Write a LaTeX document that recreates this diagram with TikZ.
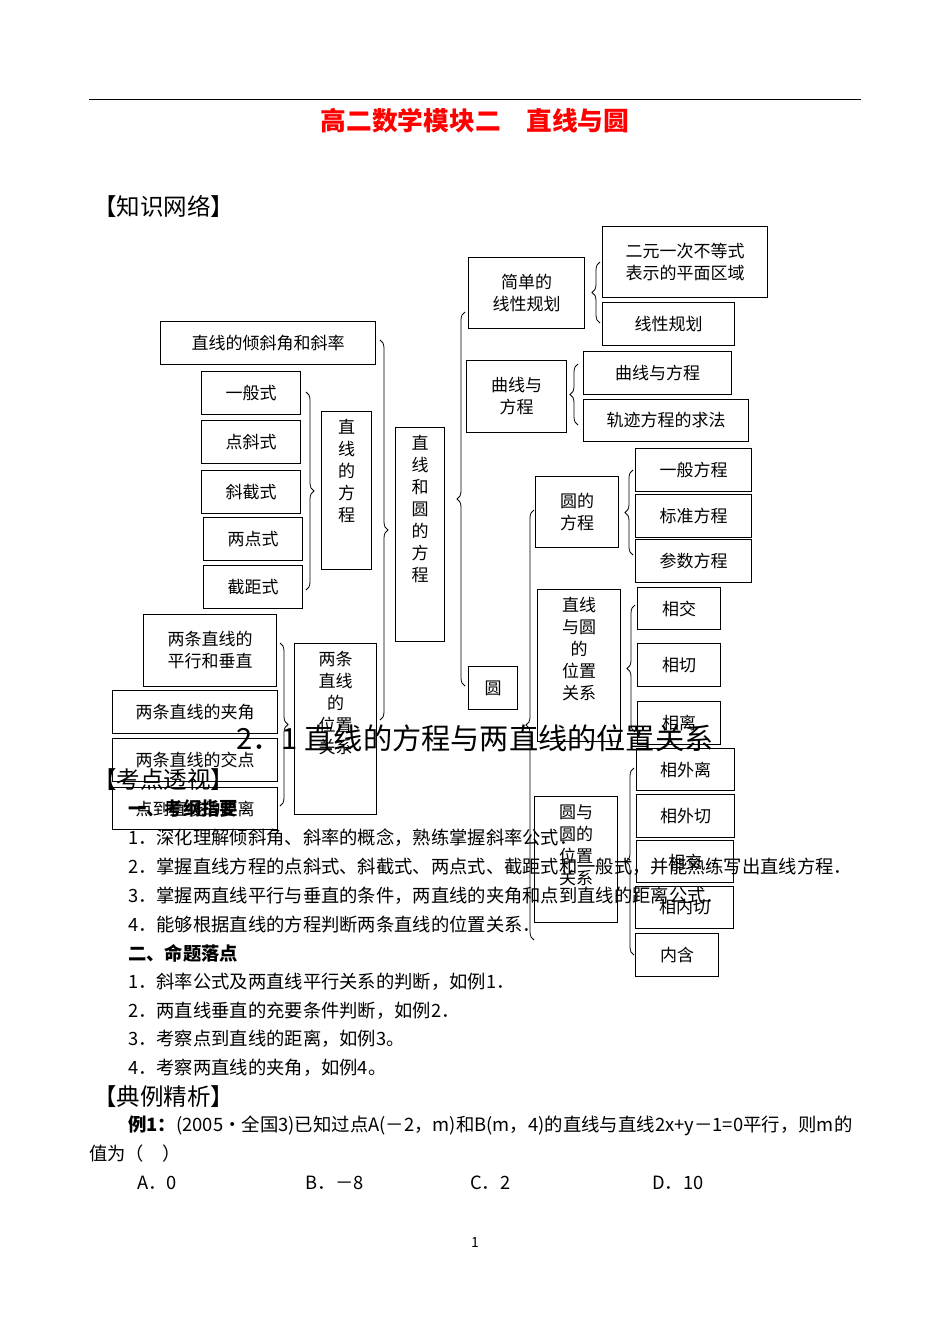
\documentclass[tikz,border=0pt]{standalone}
\usepackage{fontspec}
\setmainfont{Noto Sans CJK SC}
\usetikzlibrary{decorations.pathreplacing}
\tikzset{box/.style={draw,line width=1pt,inner sep=0pt,align=center,font=\fontsize{17}{22}\selectfont},
 brc/.style={decorate,decoration={brace,amplitude=8pt},line width=0.8pt},
 body/.style={anchor=west,font=\fontsize{18.3}{20}\selectfont,inner sep=0pt}}
\newcommand\bx[6]{\node[box,anchor=north west,minimum width={(#4-#2)*1pt},minimum height={(#5-#3)*1pt}] (#1) at (#2,#3) {#6};}
\newcommand\bxt[6]{\node[box,anchor=north west,minimum width={(#4-#2)*1pt},minimum height={(#5-#3)*1pt}] (#1) at (#2,#3) {};
 \node[font=\fontsize{17}{22}\selectfont,align=center,anchor=north,inner sep=0pt] (#1t) at ([yshift=-8pt]#1.north) {#6};}
\begin{document}
\begin{tikzpicture}[x=1pt,y=-1pt]
\path[use as bounding box,fill=white] (0,0) rectangle (950,1342);
\draw[line width=1pt] (89,99) coordinate (r1) -- (861,99) coordinate (r2);
\node[text=red,font=\fontsize{25.7}{28}\selectfont\bfseries] (title) at (475,121) {高二数学模块二\quad 直线与圆};
\node[body,font=\fontsize{23.5}{26}\selectfont] (zs) at (93,206) {【知识网络】};
% boxes
\bx{jd}{468}{257}{584}{328}{简单的\\线性规划}
\bx{ey}{602}{226}{767}{297}{二元一次不等式\\表示的平面区域}
\bx{xg}{602}{302}{734}{345}{线性规划}
\bx{qx}{466}{360}{566}{432}{曲线与\\方程}
\bx{qf}{583}{351}{731}{394}{曲线与方程}
\bx{gj}{583}{399}{748}{441}{轨迹方程的求法}
\bx{qj}{160}{321}{375}{364}{直线的倾斜角和斜率}
\bx{yb}{201}{371}{300}{414}{一般式}
\bx{dx}{201}{420}{300}{463}{点斜式}
\bx{xj}{201}{470}{300}{513}{斜截式}
\bx{ld}{203}{517}{302}{560}{两点式}
\bx{jj}{203}{565}{302}{608}{截距式}
\bxt{zf}{321}{411}{371}{569}{直\\线\\的\\方\\程}
\bxt{zy}{395}{427}{444}{641}{直\\线\\和\\圆\\的\\方\\程}
\bx{yf}{535}{476}{618}{547}{圆的\\方程}
\bx{ybf}{635}{448}{751}{491}{一般方程}
\bx{bz}{635}{494}{751}{537}{标准方程}
\bx{cs}{635}{539}{751}{582}{参数方程}
\bxt{zyw}{537}{589}{620}{741}{直线\\与圆\\的\\位置\\关系}
\bx{xj1}{637}{587}{720}{629}{相交}
\bx{xq}{637}{643}{720}{686}{相切}
\bx{xl}{637}{701}{720}{744}{相离}
\bx{yuan}{468}{666}{517}{709}{圆}
\bx{px}{143}{614}{276}{686}{两条直线的\\平行和垂直}
\bx{jjiao}{112}{690}{277}{733}{两条直线的夹角}
\bx{jd2}{112}{738}{277}{781}{两条直线的交点}
\bx{jl}{112}{787}{277}{829}{点到直线的距离}
\bxt{lw}{294}{643}{376}{814}{两条\\直线\\的\\位置\\关系}
\bxt{yyw}{534}{796}{617}{922}{圆与\\圆的\\位置\\关系}
\bx{wl}{636}{748}{734}{790}{相外离}
\bx{wq}{636}{794}{734}{837}{相外切}
\bx{xj2}{636}{840}{733}{882}{相交}
\bx{nq}{635}{886}{733}{928}{相内切}
\bx{nh}{635}{933}{718}{976}{内含}
% braces
\draw[brc] (600,323) -- (600,262);
\draw[brc] (578,425) -- (578,364);
\draw[brc] (380,340) -- (380,720);
\draw[brc] (306,392) -- (306,590);
\draw[brc] (280,643) -- (280,806);
\draw[brc] (465,686) -- (465,312);
\draw[brc] (534,940) -- (534,510);
\draw[brc] (633,555) -- (633,470);
\draw[brc] (635,732) -- (635,605);
\draw[brc] (634,955) -- (634,768);
% text
\node[font=\fontsize{29.2}{32}\selectfont] (h2) at (475,738) {2．1 直线的方程与两直线的位置关系};
\node[body,font=\fontsize{23.5}{26}\selectfont] (kd) at (93,780) {【考点透视】};
\node[body,font=\fontsize{18.3}{20}\selectfont\bfseries] (gy) at (128,808) {一、考纲指要};
\node[body] (l1) at (128,838) {1．深化理解倾斜角、斜率的概念，熟练掌握斜率公式．};
\node[body] (l2) at (128,867) {2．掌握直线方程的点斜式、斜截式、两点式、截距式和一般式，并能熟练写出直线方程．};
\node[body] (l3) at (128,896) {3．掌握两直线平行与垂直的条件，两直线的夹角和点到直线的距离公式．};
\node[body] (l4) at (128,925) {4．能够根据直线的方程判断两条直线的位置关系．};
\node[body,font=\fontsize{18.3}{20}\selectfont\bfseries] (mt) at (128,953) {二、命题落点};
\node[body] (m1) at (128,982) {1．斜率公式及两直线平行关系的判断，如例1．};
\node[body] (m2) at (128,1011) {2．两直线垂直的充要条件判断，如例2．};
\node[body] (m3) at (128,1039) {3．考察点到直线的距离，如例3。};
\node[body] (m4) at (128,1068) {4．考察两直线的夹角，如例4。};
\node[body,font=\fontsize{23.5}{26}\selectfont] (dl) at (93,1097) {【典例精析】};
\node[body,font=\fontsize{18.4}{20}\selectfont] (e1) at (128,1126) {\textbf{例1：}(2005·全国3)已知过点A(－2，m)和B(m，4)的直线与直线2x+y－1=0平行，则m的};
\node[body] (e2) at (89,1154) {值为（　）};
\node[body] (oa) at (137,1183) {A．0};
\node[body] (ob) at (305,1183) {B．－8};
\node[body] (oc) at (470,1183) {C．2};
\node[body] (od) at (652,1183) {D．10};
\node[font=\fontsize{14}{16}\selectfont] (pg) at (475,1242) {1};
\end{tikzpicture}
\end{document}
